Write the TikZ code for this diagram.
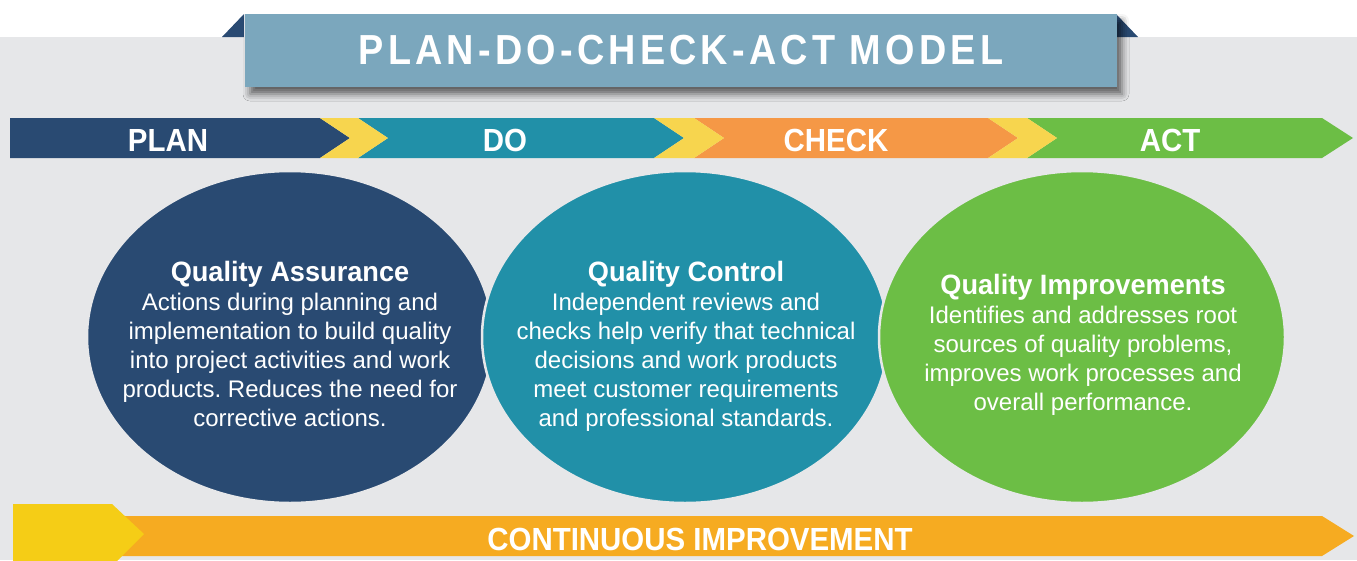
\documentclass[tikz,border=0pt]{standalone}
\usepackage{fontspec}
\setmainfont{Liberation Sans}
\newfontfamily\titlefont[FakeStretch=0.9,LetterSpace=10]{Liberation Sans}
\newfontfamily\barfont[FakeStretch=0.92]{Liberation Sans}
\newfontfamily\headfont[FakeStretch=0.97]{Liberation Sans}
\usetikzlibrary{shapes.geometric,shadows.blur}
\frenchspacing

\definecolor{bggray}{RGB}{230,231,233}
\definecolor{bannerblue}{RGB}{123,167,189}
\definecolor{navy}{RGB}{41,74,114}
\definecolor{teal}{RGB}{33,144,168}
\definecolor{orange}{RGB}{245,152,70}
\definecolor{green}{RGB}{108,190,69}
\definecolor{chevyellow}{RGB}{247,213,78}
\definecolor{ciorange}{RGB}{246,171,33}
\definecolor{ciyellow}{RGB}{245,205,22}

\tikzset{
	disc/.style={ellipse,minimum width=406pt,minimum height=332pt,inner sep=0pt,draw=bggray,line width=2.5pt},
	blurb/.style={text=white,align=center,inner sep=0pt,anchor=north,font=\fontsize{24}{29}\selectfont},
	barlabel/.style={text=white,anchor=base,inner sep=0pt,font=\barfont\bfseries\fontsize{32}{36}\selectfont},
}
\newcommand{\headline}[1]{{\headfont\bfseries\fontsize{28}{29}\selectfont #1}}

\begin{document}
\begin{tikzpicture}[x=1pt,y=-1pt]
		\useasboundingbox (0,0) rectangle (1357,560);
		\clip (0,0) rectangle (1357,560);
		\fill[bggray] (0,37) rectangle (1357,560);
		%
		\fill[navy] (222,37) -- (244,14) -- (244,37) -- cycle;
		\fill[navy] (1116,14) -- (1138,37) -- (1116,37) -- cycle;
		\node[fill=bannerblue,minimum width=872pt,minimum height=73pt,inner sep=0pt,
			blur shadow={shadow xshift=5pt,shadow yshift=-7pt,shadow blur radius=7pt,shadow opacity=60},
			text=white,font=\titlefont\bfseries\fontsize{42}{46}\selectfont] (t) at (681,50.5) {PLAN-DO-CHECK-ACT MODEL};
		%
		\fill[navy] (10,118) -- (320,118) -- (350,138) -- (320,158) -- (10,158) -- cycle;
		\fill[teal] (358,118) -- (654,118) -- (684,138) -- (654,158) -- (358,158) -- (388,138) -- cycle;
		\fill[orange] (694,118) -- (988,118) -- (1018,138) -- (988,158) -- (694,158) -- (724,138) -- cycle;
		\fill[green] (1027,118) -- (1322,118) -- (1353,138) -- (1322,158) -- (1027,158) -- (1057,138) -- cycle;
		\foreach \a/\b in {320/358,654/694,988/1027}
			\fill[chevyellow] (\a,118) -- (\b,118) -- (\b+30,138) -- (\b,158) -- (\a,158) -- (\a+30,138) -- cycle;
		\node[barlabel] (plan) at (168,151) {PLAN};
		\node[barlabel] (do) at (505,151) {DO};
		\node[barlabel] (check) at (836,151) {CHECK};
		\node[barlabel] (act) at (1170,151) {ACT};
		%
		\node[disc,fill=navy] (qa) at (290,337) {};
		\node[disc,fill=teal] (qc) at (685,337) {};
		\node[disc,fill=green] (qi) at (1082,337) {};
		\node[blurb] (qa-text) at (290,261.5) {\headline{Quality Assurance}\\Actions during planning and\\implementation to build quality\\into project activities and work\\products. Reduces the need for\\corrective actions.};
		\node[blurb] (qc-text) at (686,261.5) {\headline{Quality Control}\\Independent reviews and\\checks help verify that technical\\decisions and work products\\meet customer requirements\\and professional standards.};
		\node[blurb] (qi-text) at (1083,274.5) {\headline{Quality Improvements}\\Identifies and addresses root\\sources of quality problems,\\improves work processes and\\overall performance.};
		%
		\fill[ciorange] (120,516) -- (1322,516) -- (1354,536) -- (1322,556) -- (120,556) -- cycle;
		\fill[ciyellow] (13,504) -- (112,504) -- (144,534) -- (114,564) -- (13,564) -- cycle;
		\node[barlabel] (ci) at (700,550) {CONTINUOUS IMPROVEMENT};
	\end{tikzpicture}
\end{document}
